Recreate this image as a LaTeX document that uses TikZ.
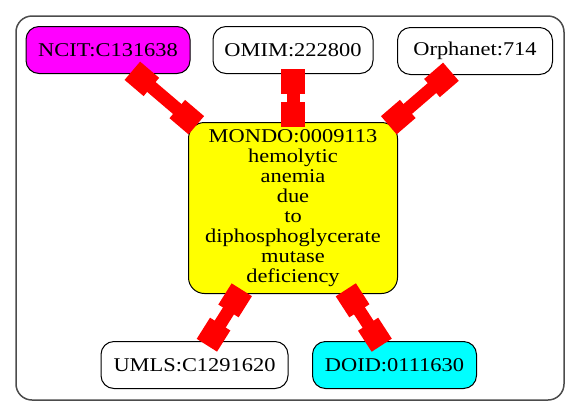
\documentclass[tikz,border=0pt]{standalone}
\usepackage{fontspec}
\setmainfont{Liberation Serif}[FakeStretch=1.15]
\usetikzlibrary{arrows.meta}
\definecolor{nmag}{RGB}{255,0,255}
\definecolor{ncyan}{RGB}{0,255,255}
\definecolor{nyel}{RGB}{255,255,0}
\definecolor{nred}{RGB}{255,0,0}
\begin{document}
\begin{tikzpicture}[x=1pt,y=-1pt,
  term/.style={draw=black, line width=1pt, rectangle, rounded corners=13pt, inner sep=0pt,
    minimum height=47pt, font=\fontsize{19.5}{20}\selectfont, align=center},
  link/.style={draw=nred, line width=13pt,
    {Square[length=25pt,width=24pt]}-{Square[length=25pt,width=24pt]},
    shorten <=-5pt, shorten >=-5pt}]
\useasboundingbox (0,0) rectangle (579,416);
\draw[draw=black!70, line width=1.5pt, rounded corners=16pt] (16,16) rectangle (564,400);
\node[term, fill=nmag, minimum width=164pt] (ncit) at (108,50) {NCIT:C131638};
\node[term, fill=white, minimum width=160pt] (omim) at (293,50) {OMIM:222800};
\node[term, fill=white, minimum width=155pt] (orph) at (475,51) {Orphanet:714};
\node[term, fill=nyel, minimum width=209pt, minimum height=171pt, rounded corners=16pt] (mondo) at (293,208)
  {MONDO:0009113\\hemolytic\\anemia\\due\\to\\diphosphoglycerate\\mutase\\deficiency};
\node[term, fill=white, minimum width=187pt] (umls) at (194.5,365) {UMLS:C1291620};
\node[term, fill=ncyan, minimum width=164pt] (doid) at (394.5,365) {DOID:0111630};
\draw[link] (ncit) -- (mondo);
\draw[link] (omim) -- (mondo);
\draw[link] (orph) -- (mondo);
\draw[link] (mondo) -- (umls);
\draw[link] (mondo) -- (doid);
\end{tikzpicture}
\end{document}
